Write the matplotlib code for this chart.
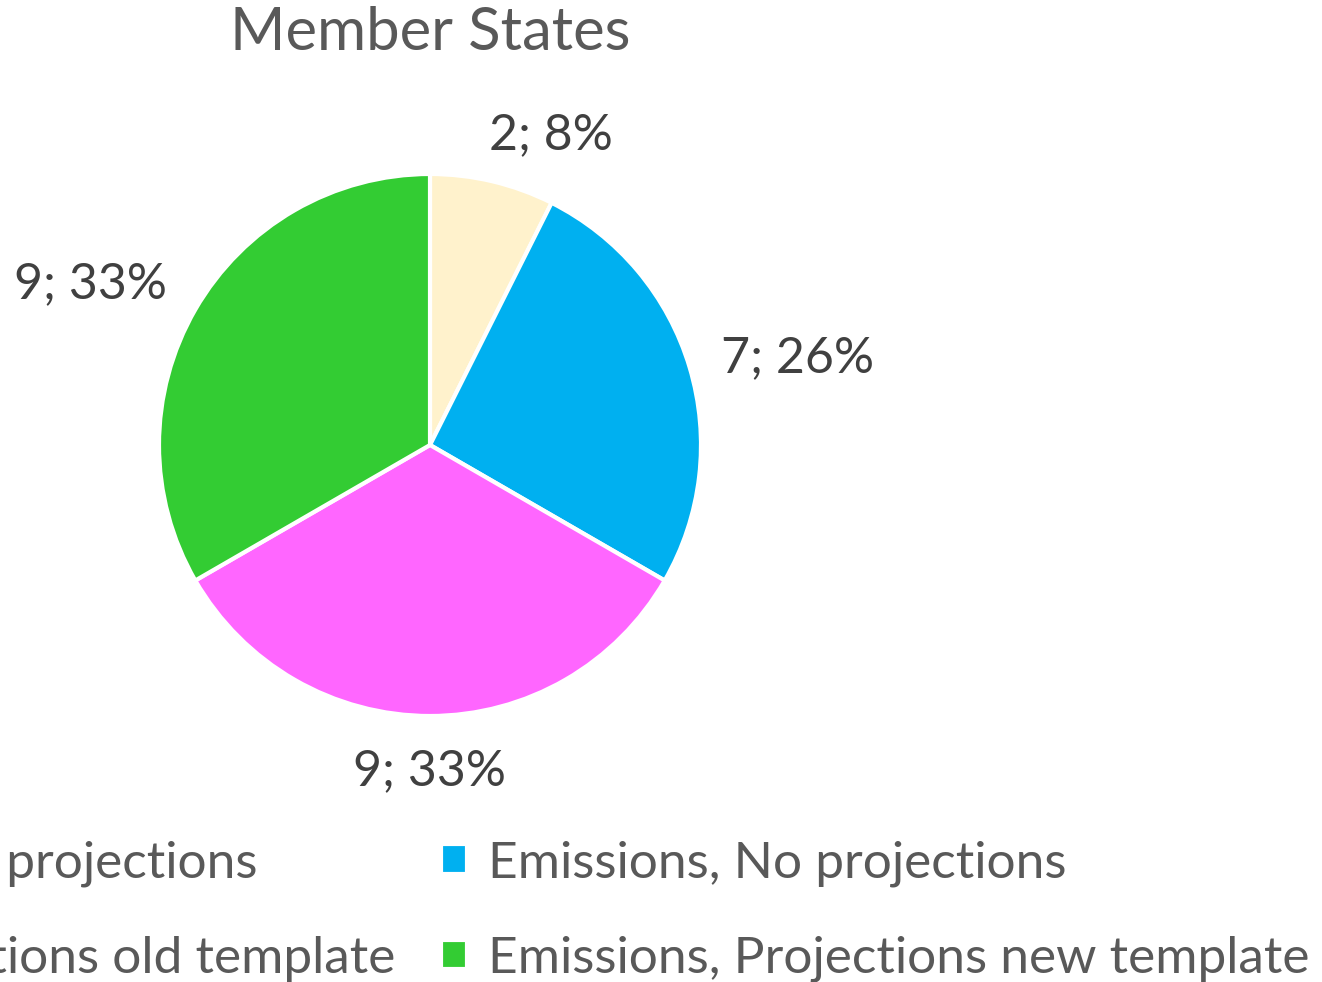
import matplotlib.pyplot as plt

plt.rcParams['font.family'] = ['Lato', 'DejaVu Sans']

categories = ['No emissions, No projections', 'Emissions, No projections',
              'Emissions, Projections old template', 'Emissions, Projections new template']
counts = [2, 7, 9, 9]
percents = [8, 26, 33, 33]  # as printed on the chart
colors = ['#FFF2CC', '#00B0F0', '#FF66FF', '#33CC33']

labels = [f'{c}; {p}%' for c, p in zip(counts, percents)]

fig = plt.figure(figsize=(13.22, 9.82), dpi=100)
# pie centre at about (430, 445) px, radius about 271 px
ax = fig.add_axes([159 / 1322, 266 / 982, 542 / 1322, 542 / 982])
wedges, texts = ax.pie(counts, colors=colors, labels=labels, startangle=90,
                       counterclock=False, labeldistance=1.12,
                       wedgeprops=dict(edgecolor='white', linewidth=3),
                       textprops=dict(fontsize=36, color='#404040'))
texts[2].set_ha('center')
texts[2].set_va('top')
# small nudges to match where excel put them
x, y = texts[0].get_position()
texts[0].set_position((x - 0.04, y + 0.055))
x, y = texts[3].get_position()
texts[3].set_position((x, y + 0.033))
ax.set_xlim(-1, 1)
ax.set_ylim(-1, 1)
ax.set_aspect('equal')

fig.text(430 / 1322, 1 - 33 / 982, 'Member States', ha='center', va='center',
         fontsize=43, color='#595959')

# legend rows go left-to-right, matplotlib fills columns first
order = [0, 2, 1, 3]
fig.legend([wedges[i] for i in order], [categories[i] for i in order],
           ncol=2, loc='lower right', bbox_to_anchor=(1309 / 1322, 0),
           frameon=False, fontsize=37, labelcolor='#595959',
           handlelength=0.5, handleheight=0.5, handletextpad=0.4,
           columnspacing=0.9, labelspacing=0.95, borderpad=0, borderaxespad=0)

fig.savefig('out.png', dpi=100)
